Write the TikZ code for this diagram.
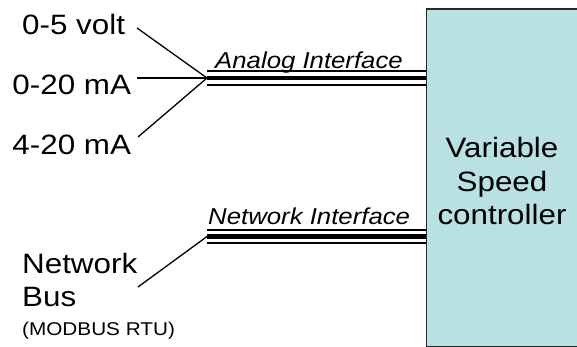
\documentclass[tikz,border=0pt]{standalone}
\usepackage{fontspec}
\setmainfont{Liberation Sans}[FakeStretch=1.12]
\definecolor{boxfill}{RGB}{185,224,227}
\definecolor{boxline}{RGB}{40,40,40}
\tikzset{
  lbl/.style={inner sep=0pt, anchor=base west, font=\fontsize{28}{33.5}\selectfont},
  small/.style={inner sep=0pt, anchor=base west, font=\fontsize{18.5}{22}\selectfont},
  ital/.style={inner sep=0pt, anchor=base west, font=\fontsize{23}{27}\selectfont\itshape},
  wire/.style={line width=1.3pt, black},
  thinbus/.style={line width=1.7pt, black},
  thickbus/.style={line width=4.3pt, black},
  ctrl/.style={draw=boxline, line width=1.3pt, fill=boxfill, inner sep=0pt, anchor=north west,
    minimum width=170pt, minimum height=337.4pt}
}
\begin{document}
\begin{tikzpicture}[x=1pt,y=-1pt]
\useasboundingbox (0,0) rectangle (577,347);
\clip (0,0) rectangle (577,347);
\fill[white] (0,0) rectangle (577,347);

% controller box
\node[ctrl] (vsc) at (426,8.3) {};
\node[inner sep=0pt, align=center, font=\fontsize{28}{33.5}\selectfont] (vsctext) at (502,181.2) {Variable\\Speed\\controller};

% left labels
\node[lbl] (v05) at (22,34.3) {0-5 volt};
\node[lbl] (a020) at (12.3,94.3) {0-20 mA};
\node[lbl] (a420) at (12.3,154.3) {4-20 mA};
\node[lbl] (net) at (22,273) {Network};
\node[lbl] (bus) at (22,306.7) {Bus};
\node[small] (modbus) at (22,335) {(MODBUS RTU)};

% interface labels
\node[ital] (analogif) at (215,69) {Analog Interface};
\node[ital] (netif) at (208,224) {Network Interface};

% connector endpoints
\coordinate (s1) at (137,28);
\coordinate (s2) at (137,78);
\coordinate (s3) at (138,137);
\coordinate (aj) at (207,78);
\coordinate (s4) at (138,287);
\coordinate (nj) at (207,236.5);

\draw[wire] (s1) -- (aj);
\draw[wire] (s2) -- (aj);
\draw[wire] (s3) -- (aj);
\draw[wire] (s4) -- (nj);

% analog bus (thin-thick-thin)
\draw[thinbus] ([yshift=-7.2pt]aj) -- ([yshift=-7.2pt]vsc.west |- aj);
\draw[thickbus] (aj) -- (vsc.west |- aj);
\draw[thinbus] ([yshift=7.2pt]aj) -- ([yshift=7.2pt]vsc.west |- aj);

% network bus
\draw[thinbus] ([yshift=-6.5pt]nj) -- ([yshift=-6.5pt]vsc.west |- nj);
\draw[thickbus] (nj) -- (vsc.west |- nj);
\draw[thinbus] ([yshift=6.5pt]nj) -- ([yshift=6.5pt]vsc.west |- nj);
\end{tikzpicture}
\end{document}
